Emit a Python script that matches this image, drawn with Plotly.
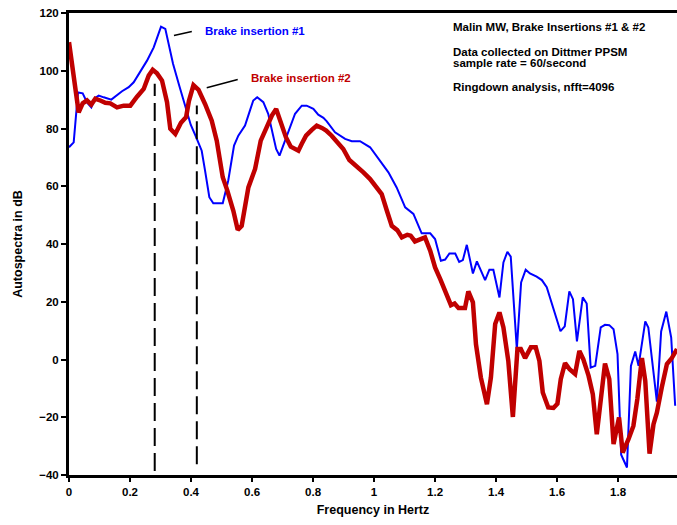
import plotly.graph_objects as go

# ---------------- data ----------------
freq_blue = [0.0, 0.0154, 0.0295, 0.0449, 0.059, 0.0731, 0.0862, 0.0974, 0.1138, 0.1387,
             0.1738, 0.1957, 0.2121, 0.2338, 0.2557, 0.2777, 0.3016, 0.3157, 0.3295, 0.341,
             0.361, 0.383, 0.399, 0.416, 0.435, 0.446, 0.460, 0.473, 0.504, 0.522,
             0.541, 0.555, 0.577, 0.593, 0.604, 0.617, 0.637, 0.653, 0.665, 0.679,
             0.690, 0.708, 0.725, 0.741, 0.763, 0.779, 0.801, 0.817, 0.834, 0.845,
             0.872, 0.894, 0.905, 0.927, 0.954, 0.987, 1.014, 1.047, 1.074, 1.102,
             1.129, 1.156, 1.184, 1.200, 1.219, 1.233, 1.247, 1.266, 1.279, 1.291,
             1.304, 1.324, 1.337, 1.350, 1.364, 1.378, 1.391, 1.411, 1.424, 1.437,
             1.448, 1.468, 1.482, 1.497, 1.511, 1.533, 1.550, 1.566, 1.583, 1.599,
             1.611, 1.625, 1.640, 1.652, 1.665, 1.684, 1.697, 1.710, 1.725, 1.743,
             1.757, 1.771, 1.785, 1.798, 1.810, 1.829, 1.842, 1.856, 1.867, 1.889,
             1.899, 1.927, 1.941, 1.958, 1.974, 1.987]
db_blue = [73.5, 75.2, 92.5, 92.2, 89.0, 87.3, 90.6, 91.4, 90.8, 90.0,
           92.9, 94.3, 96.0, 99.5, 103.5, 108.1, 115.3, 114.5, 108.0, 102.4,
           95.0, 87.0, 81.3, 77.2, 72.3, 65.4, 56.2, 54.1, 54.1, 62.0,
           74.1, 77.5, 81.0, 86.2, 89.7, 90.8, 89.1, 85.1, 79.3, 72.9,
           70.6, 75.8, 80.4, 85.1, 87.9, 87.9, 86.8, 84.8, 83.7, 82.5,
           78.7, 77.0, 76.4, 75.6, 75.6, 73.5, 69.5, 64.8, 59.6, 52.7,
           50.4, 43.7, 43.7, 41.7, 34.2, 34.6, 36.7, 36.7, 33.8, 34.4,
           39.7, 29.8, 34.0, 31.0, 27.5, 31.1, 31.1, 21.5, 33.6, 37.3,
           35.6, 3.6, 26.7, 31.1, 29.8, 28.7, 27.5, 25.0, 19.2, 13.4,
           9.8, 11.5, 23.6, 20.9, 6.3, 21.5, 19.4, -2.8, -2.2, 11.1,
           12.0, 11.9, 10.5, 1.9, -33.0, -37.4, -2.2, 2.8, -2.2, 13.2,
           11.1, -14.6, 9.7, 16.6, 7.6, -16.0]

freq_red = [0.0, 0.0317, 0.0449, 0.059, 0.0731, 0.0862, 0.1026, 0.119, 0.1354, 0.1574,
            0.1793, 0.2010, 0.2230, 0.2449, 0.2613, 0.2744, 0.2885, 0.3049, 0.3213, 0.3321,
            0.3485, 0.367, 0.384, 0.393, 0.408, 0.4246, 0.4459, 0.4679, 0.4843, 0.504,
            0.519, 0.5387, 0.553, 0.566, 0.588, 0.610, 0.6285, 0.648, 0.665, 0.679,
            0.694, 0.711, 0.727, 0.752, 0.763, 0.777, 0.796, 0.812, 0.829, 0.843,
            0.861, 0.878, 0.899, 0.919, 0.943, 0.965, 0.987, 1.003, 1.025, 1.042,
            1.058, 1.076, 1.091, 1.109, 1.120, 1.134, 1.151, 1.167, 1.184, 1.200,
            1.218, 1.230, 1.243, 1.252, 1.264, 1.277, 1.298, 1.309, 1.324, 1.334,
            1.350, 1.370, 1.383, 1.397, 1.411, 1.424, 1.440, 1.455, 1.470, 1.481,
            1.495, 1.514, 1.530, 1.542, 1.553, 1.571, 1.588, 1.601, 1.612, 1.626,
            1.641, 1.659, 1.673, 1.686, 1.703, 1.717, 1.730, 1.743, 1.757, 1.771,
            1.785, 1.803, 1.815, 1.834, 1.850, 1.863, 1.878, 1.889, 1.903, 1.916,
            1.927, 1.943, 1.960, 1.976, 1.993]
db_red = [109.9, 85.6, 88.7, 89.7, 88.3, 90.3, 89.7, 88.9, 88.7, 87.3,
          87.9, 87.9, 91.0, 93.7, 98.3, 100.3, 99.1, 96.6, 89.1, 79.9,
          78.1, 82.0, 84.0, 89.5, 95.0, 93.4, 88.5, 82.7, 75.8, 63.1,
          58.5, 51.5, 44.9, 46.3, 59.6, 66.0, 75.8, 81.0, 84.5, 86.8,
          82.2, 77.0, 73.7, 72.3, 74.7, 77.5, 79.5, 81.0, 80.2, 79.3,
          77.5, 75.6, 72.9, 69.1, 67.1, 64.8, 62.5, 60.2, 57.3, 51.5,
          46.3, 44.8, 42.3, 43.2, 42.9, 40.9, 41.7, 42.3, 37.7, 31.9,
          27.6, 24.5, 21.0, 18.8, 19.4, 17.8, 17.8, 23.6, 19.8, 5.3,
          -6.2, -15.5, -6.2, 12.3, 16.3, 11.1, -0.5, -19.9, 3.6, 3.6,
          0.5, 4.2, 4.2, -0.5, -11.4, -16.6, -16.8, -15.3, -6.8, -1.2,
          -3.4, -5.0, 3.0, 0.1, -5.6, -12.0, -25.9, -13.2, -1.4, -6.8,
          -29.3, -20.1, -32.2, -27.6, -23.0, -13.7, 0.5, -7.4, -32.6, -22.4,
          -18.4, -9.7, -1.6, 0.5, 3.6]

# peak markers (dashed verticals)
peak_freqs = [0.281, 0.419]
peak_tops = [95.5, 88.0]
peak_bottoms = [-38.6, -36.3]

x_ticks = [0, 0.2, 0.4, 0.6, 0.8, 1.0, 1.2, 1.4, 1.6, 1.8]
y_ticks = [-40, -20, 0, 20, 40, 60, 80, 100, 120]

info_lines = ["Malin MW, Brake Insertions #1 &amp; #2",
              "Data collected on Dittmer PPSM",
              "sample rate = 60/second",
              "Ringdown analysis, nfft=4096"]
info_y = [115.1, 106.6, 102.7, 94.3]

BLUE = "#0000FF"
RED = "#C00000"
FONT = "Liberation Sans, Arial, sans-serif"

fig = go.Figure()
fig.add_trace(go.Scatter(x=freq_blue, y=db_blue, mode="lines",
                         line=dict(color=BLUE, width=2), showlegend=False))
fig.add_trace(go.Scatter(x=freq_red, y=db_red, mode="lines",
                         line=dict(color=RED, width=4.5), showlegend=False))
for f, top, bot in zip(peak_freqs, peak_tops, peak_bottoms):
    fig.add_trace(go.Scatter(x=[f, f], y=[bot, top], mode="lines",
                             line=dict(color="black", width=2, dash="18px,7px"),
                             showlegend=False))

# label pointer lines + texts
fig.add_annotation(x=0.344, y=112.2, ax=0.4075, ay=113.7, axref="x", ayref="y",
                   xref="x", yref="y", showarrow=True, arrowhead=0, arrowwidth=1.5,
                   arrowcolor="black", text="")
fig.add_annotation(x=0.4515, y=94.1, ax=0.558, ay=97.1, axref="x", ayref="y",
                   xref="x", yref="y", showarrow=True, arrowhead=0, arrowwidth=1.5,
                   arrowcolor="black", text="")
fig.add_annotation(x=0.440, y=113.6, xref="x", yref="y", text="Brake insertion #1",
                   showarrow=False, xanchor="left", yanchor="middle",
                   font=dict(family=FONT, size=11.5, color=BLUE, weight="bold"))
fig.add_annotation(x=0.591, y=97.6, xref="x", yref="y", text="Brake insertion #2",
                   showarrow=False, xanchor="left", yanchor="middle",
                   font=dict(family=FONT, size=11.5, color=RED, weight="bold"))
for txt, yy in zip(info_lines, info_y):
    fig.add_annotation(x=1.252, y=yy, xref="x", yref="y", text=txt,
                       showarrow=False, xanchor="left", yanchor="middle",
                       font=dict(family=FONT, size=11.5, color="black", weight="bold"))

fig.update_layout(
    width=677, height=525,
    margin=dict(l=69, r=0, t=13, b=50),
    paper_bgcolor="white", plot_bgcolor="white",
    font=dict(family=FONT, color="black"),
)
fig.update_xaxes(range=[0, 1.993], tickvals=x_ticks, showgrid=False, zeroline=False,
                 showline=True, linecolor="black", linewidth=3, mirror=True,
                 ticks="outside", ticklen=4, tickwidth=2, tickcolor="black",
                 tickfont=dict(family=FONT, size=11.5, weight="bold"),
                 title=dict(text="Frequency in Hertz", standoff=9,
                            font=dict(family=FONT, size=12.5, weight="bold")))
fig.update_yaxes(range=[-40, 120], tickvals=y_ticks, showgrid=False, zeroline=False,
                 showline=True, linecolor="black", linewidth=3,
                 ticks="outside", ticklen=5, tickwidth=2, tickcolor="black",
                 tickfont=dict(family=FONT, size=11.5, weight="bold"),
                 title=dict(text="Autospectra in dB", standoff=14,
                            font=dict(family=FONT, size=12.5, weight="bold")))

fig.write_html("out.html")
